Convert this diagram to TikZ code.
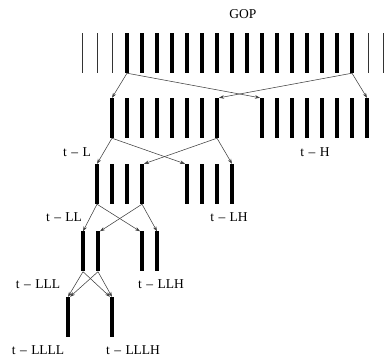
\documentclass[tikz,border=0pt]{standalone}
\usepackage{fontspec}
\setmainfont{Liberation Serif}
\usetikzlibrary{arrows.meta}
\begin{document}
\begin{tikzpicture}[x=1pt,y=-1pt,
  bar/.style={rectangle,fill=black,inner sep=0pt,minimum width=3.6pt,minimum height=40pt},
  thinbar/.style={rectangle,fill=black!80,inner sep=0pt,minimum width=0.9pt,minimum height=40pt},
  link/.style={draw=black!75,line width=0.55pt,-{Stealth[length=5pt,width=3.5pt]}},
  lbl/.style={font=\fontsize{13.5}{15}\selectfont,inner sep=0pt}]
\useasboundingbox (0,0) rectangle (391,358);
% top row (GOP)
\foreach \x [count=\i from 1] in {82,97,112,368,383} \node[thinbar] (s\i) at (\x,53) {};
\foreach \i in {0,...,15} \node[bar] (t\i) at ({127+15*\i},53) {};
% row 2
\foreach \i in {0,...,7} \node[bar] (l\i) at ({112+15*\i},118) {};
\foreach \i in {0,...,7} \node[bar] (h\i) at ({262+15*\i},118) {};
% row 3
\foreach \i in {0,...,3} \node[bar] (ll\i) at ({97+15*\i},184) {};
\foreach \i in {0,...,3} \node[bar] (lh\i) at ({187+15*\i},184) {};
% row 4
\node[bar] (lll0) at (83,251.5) {};
\node[bar] (lll1) at (98,251.5) {};
\node[bar] (llh0) at (142,251.5) {};
\node[bar] (llh1) at (157,251.5) {};
% row 5
\node[bar] (llll) at (68,317) {};
\node[bar] (lllh) at (112,317) {};
% connectors
\draw[link] (t0.south) -- (l0.north);
\draw[link] (t0.south) -- (h0.north west);
\draw[link] (t15.south) -- (h7.north);
\draw[link] (t15.south) -- (l7.north east);
\draw[link] (l0.south) -- (ll0.north);
\draw[link] (l0.south) -- (lh0.north west);
\draw[link] (l7.south) -- (lh3.north);
\draw[link] (l7.south) -- (ll3.north east);
\draw[link] (ll0.south) -- (lll0.north);
\draw[link] (ll0.south) -- (llh0.north west);
\draw[link] (ll3.south) -- (llh1.north);
\draw[link] (ll3.south) -- (lll1.north east);
\draw[link] (lll0.south) -- (llll.north);
\draw[link] (lll0.south) -- (lllh.north west);
\draw[link] (lll1.south) -- (lllh.north);
\draw[link] (lll1.south) -- (llll.north east);
% labels
\node[lbl] (gop) at (243,14) {GOP};
\node[lbl] (tl) at (77,152) {t\,\,--\,\,L};
\node[lbl] (th) at (315,152) {t\,\,--\,\,H};
\node[lbl] (tll) at (64,217) {t\,\,--\,\,LL};
\node[lbl] (tlh) at (229,217) {t\,\,--\,\,LH};
\node[lbl] (tlll) at (38,284) {t\,\,--\,\,LLL};
\node[lbl] (tllh) at (161,284) {t\,\,--\,\,LLH};
\node[lbl] (tllll) at (38,350) {t\,\,--\,\,LLLL};
\node[lbl] (tlllh) at (133,350) {t\,\,--\,\,LLLH};
\end{tikzpicture}
\end{document}
